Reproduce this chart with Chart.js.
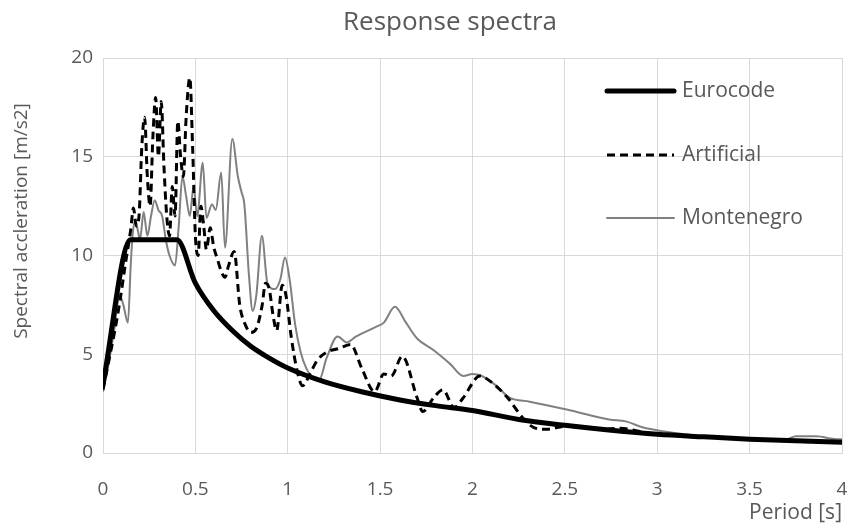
<!DOCTYPE html>
<html>
<head>
<meta charset="utf-8">
<script src="https://cdn.jsdelivr.net/npm/chart.js@4"></script>
<style>
  html, body { margin: 0; padding: 0; background: #fff; }
  #wrap { width: 850px; height: 528px; }
</style>
</head>
<body>
<div id="wrap"><canvas id="chart" width="850" height="528"></canvas></div>
<script>
// values
const euroT = [0, 0.15, 0.4, 0.5, 0.6, 0.7, 0.8, 0.9, 1.0, 1.2, 1.4, 1.6, 1.8, 2.0, 2.25, 2.5, 2.75, 3.0, 3.25, 3.5, 3.75, 4.0];
const euroSa = [3.5, 10.8, 10.8, 8.6, 7.2, 6.2, 5.4, 4.8, 4.3, 3.6, 3.1, 2.7, 2.4, 2.15, 1.7, 1.4, 1.15, 0.95, 0.82, 0.7, 0.62, 0.54];

const artT = [0, 0.03, 0.06, 0.09, 0.12, 0.15, 0.165, 0.18, 0.195, 0.21, 0.225, 0.24, 0.255, 0.27, 0.285, 0.3, 0.315, 0.33, 0.345, 0.36,
  0.375, 0.39, 0.405, 0.42, 0.435, 0.45, 0.47, 0.485, 0.5, 0.515, 0.53, 0.545, 0.56, 0.58, 0.6, 0.62, 0.64, 0.66, 0.68, 0.71,
  0.74, 0.77, 0.8, 0.83, 0.86, 0.88, 0.9, 0.92, 0.94, 0.97, 0.99, 1.02, 1.05, 1.08, 1.12, 1.16, 1.21, 1.28, 1.34, 1.4,
  1.47, 1.52, 1.56, 1.62, 1.7, 1.73, 1.79, 1.84, 1.9, 1.95, 2.04, 2.1, 2.19, 2.27, 2.33, 2.4, 2.5, 2.6, 2.7, 2.8,
  2.9, 3.0, 3.25, 3.5, 3.75, 4.0];
const artSa = [3.2, 4.6, 6.0, 7.6, 9.5, 11.3, 12.4, 11.5, 12.0, 15.5, 17.0, 14.0, 12.5, 16.0, 18.0, 15.0, 17.8, 14.5, 12.0, 11.0,
  13.5, 12.0, 16.8, 15.0, 14.0, 17.0, 19.0, 15.5, 11.0, 10.0, 12.5, 11.5, 10.3, 11.4, 10.4, 9.8, 9.2, 8.9, 9.5, 10.2,
  7.5, 6.5, 6.1, 6.3, 7.4, 8.6, 8.3, 7.0, 6.2, 8.5, 8.0, 5.8, 4.2, 3.4, 4.0, 4.7, 5.1, 5.3, 5.5, 4.3,
  3.1, 4.0, 3.9, 4.9, 2.8, 2.1, 2.8, 3.2, 2.3, 2.8, 3.9, 3.6, 2.8, 1.8, 1.3, 1.2, 1.35, 1.3, 1.2, 1.25,
  1.1, 0.95, 0.82, 0.7, 0.6, 0.52];

const monT = [0, 0.03, 0.06, 0.09, 0.11, 0.135, 0.15, 0.16, 0.175, 0.19, 0.2, 0.22, 0.24, 0.26, 0.28, 0.3, 0.32, 0.34, 0.36, 0.39,
  0.41, 0.43, 0.45, 0.47, 0.49, 0.51, 0.54, 0.56, 0.59, 0.61, 0.64, 0.66, 0.7, 0.73, 0.75, 0.765, 0.79, 0.81, 0.83, 0.86,
  0.89, 0.93, 0.96, 0.985, 1.01, 1.04, 1.07, 1.1, 1.15, 1.17, 1.21, 1.27, 1.32, 1.37, 1.48, 1.52, 1.58, 1.64, 1.7, 1.79,
  1.88, 1.95, 2.0, 2.05, 2.13, 2.2, 2.31, 2.51, 2.74, 2.83, 2.92, 3.03, 3.3, 3.7, 3.75, 3.86, 3.97, 4.0];
const monSa = [3.1, 4.5, 6.2, 8.0, 7.5, 6.6, 9.5, 11.0, 11.8, 11.2, 10.8, 12.2, 11.0, 12.0, 12.8, 12.3, 12.0, 10.8, 10.0, 9.5,
  11.5, 14.0, 13.0, 12.0, 13.5, 12.0, 14.7, 11.9, 12.6, 12.3, 14.2, 10.4, 15.9, 14.0, 13.2, 12.6, 9.0, 7.2, 8.0, 11.0,
  8.6, 8.3, 8.8, 9.9, 8.8, 6.5, 5.1, 4.3, 3.7, 3.7, 4.8, 5.9, 5.6, 5.9, 6.4, 6.6, 7.4, 6.6, 5.8, 5.2,
  4.5, 3.9, 4.0, 3.9, 3.4, 2.8, 2.6, 2.2, 1.7, 1.6, 1.3, 1.1, 0.8, 0.7, 0.85, 0.85, 0.7, 0.7];

const xTicks = [0, 0.5, 1, 1.5, 2, 2.5, 3, 3.5, 4];
const yTicks = [0, 5, 10, 15, 20];

const toPoints = (t, v) => t.map((x, i) => ({ x: x, y: v[i] }));

const FONT = '"Open Sans", Lato, sans-serif';
const TXT = '#595959';
const GRID = '#d9d9d9';

// title, y-axis title and legend, placed like the original
const extraText = {
  id: 'extraText',
  afterDraw(chart) {
    const c = chart.ctx;
    c.save();
    c.fillStyle = TXT;
    c.textBaseline = 'middle';

    c.font = '26px ' + FONT;
    c.textAlign = 'center';
    c.fillText('Response spectra', 450, 23);

    c.save();
    c.translate(22, 221);
    c.rotate(-Math.PI / 2);
    c.font = '19px ' + FONT;
    c.fillText('Spectral accleration [m/s2]', 0, 0);
    c.restore();

    const rows = [91, 155, 218];
    c.textAlign = 'left';
    chart.data.datasets.forEach((ds, i) => {
      const y = rows[i];
      c.beginPath();
      c.strokeStyle = ds.borderColor;
      c.lineWidth = ds.borderWidth;
      c.lineCap = ds.borderDash ? 'butt' : 'round';
      c.setLineDash(ds.borderDash || []);
      c.moveTo(607, y);
      c.lineTo(674, y);
      c.stroke();
      c.setLineDash([]);
      c.font = '21px ' + FONT;
      c.fillText(ds.label, 682, y);
    });
    c.restore();
  }
};

const ctx = document.getElementById('chart').getContext('2d');
new Chart(ctx, {
  type: 'line',
  data: {
    datasets: [
      {
        label: 'Eurocode',
        data: toPoints(euroT, euroSa),
        borderColor: '#000000',
        borderWidth: 5,
        cubicInterpolationMode: 'monotone',
        pointRadius: 0,
        order: 1
      },
      {
        label: 'Artificial',
        data: toPoints(artT, artSa),
        borderColor: '#000000',
        borderWidth: 3,
        borderDash: [8, 5],
        cubicInterpolationMode: 'monotone',
        pointRadius: 0,
        order: 2
      },
      {
        label: 'Montenegro',
        data: toPoints(monT, monSa),
        borderColor: '#808080',
        borderWidth: 2,
        cubicInterpolationMode: 'monotone',
        pointRadius: 0,
        order: 3
      }
    ]
  },
  options: {
    responsive: false,
    animation: false,
    layout: { padding: { left: 0, right: 8, top: 58, bottom: 0 } },
    plugins: {
      legend: { display: false },
      tooltip: { enabled: false },
      title: { display: false }
    },
    scales: {
      x: {
        type: 'linear',
        min: 0,
        max: 4,
        afterBuildTicks: (s) => { s.ticks = xTicks.map(v => ({ value: v })); },
        afterFit: (s) => { s.height = 75; s.paddingLeft = 0; s.paddingRight = 0; },
        grid: { color: GRID, lineWidth: 1, drawTicks: false },
        border: { color: GRID },
        ticks: {
          color: TXT,
          font: { family: FONT, size: 19 },
          padding: 25,
          callback: (v) => String(v)
        },
        title: {
          display: true,
          text: 'Period [s]',
          align: 'end',
          color: TXT,
          font: { family: FONT, size: 21 },
          padding: { top: 0, bottom: 2 }
        }
      },
      y: {
        min: 0,
        max: 20,
        afterBuildTicks: (s) => { s.ticks = yTicks.map(v => ({ value: v })); },
        afterFit: (s) => { s.width = 103; s.paddingTop = 0; s.paddingBottom = 0; },
        grid: { color: GRID, lineWidth: 1, drawTicks: false },
        border: { color: GRID },
        ticks: { color: TXT, font: { family: FONT, size: 19 }, padding: 10 }
      }
    }
  },
  plugins: [extraText]
});
</script>
</body>
</html>
